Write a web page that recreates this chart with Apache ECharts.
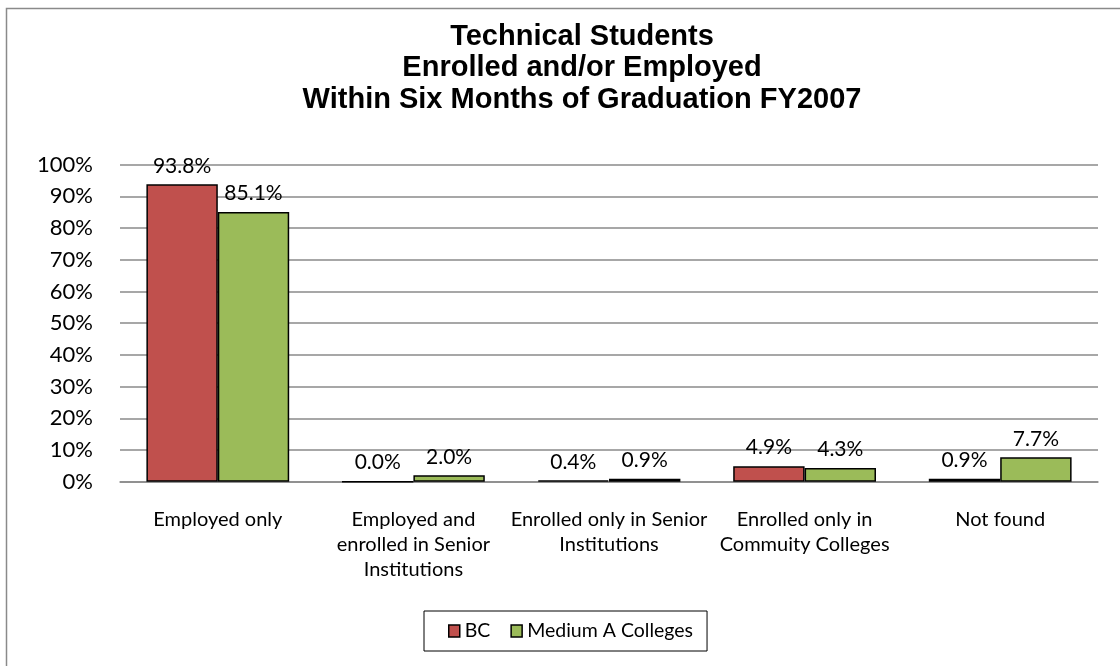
<!DOCTYPE html>
<html>
<head>
<meta charset="utf-8">
<script src="https://cdn.jsdelivr.net/npm/echarts@6/dist/echarts.min.js"></script>
<style>
  html, body { margin: 0; padding: 0; background: #fff; }
  #chart { width: 1120px; height: 666px; }
</style>
</head>
<body>
<div id="chart"></div>
<script>
// Outcome categories (x axis)
const categories = [
  'Employed only',
  'Employed and\nenrolled in Senior\nInstitutions',
  'Enrolled only in Senior\nInstitutions',
  'Enrolled only in\nCommuity Colleges',
  'Not found'
];

// Percent of technical graduates in each outcome
const bcValues = [93.8, 0.0, 0.4, 4.9, 0.9];
const mediumAValues = [85.1, 2.0, 0.9, 4.3, 7.7];

const seriesNames = ['BC', 'Medium A Colleges'];
const titleLines = [
  'Technical Students',
  'Enrolled and/or Employed',
  'Within Six Months of Graduation FY2007'
];

const bodyFont = 'Lato';
const chart = echarts.init(document.getElementById('chart'));

const labelOpt = {
  show: true,
  position: 'top',
  distance: 8,
  color: '#000',
  fontFamily: bodyFont,
  fontSize: 21,
  lineHeight: 21,
  formatter: p => p.value.toFixed(1) + '%'
};

chart.setOption({
  backgroundColor: '#fff',
  animation: false,
  graphic: [{
    type: 'rect',
    shape: { x: 6.5, y: 8.5, width: 1130, height: 700 },
    style: { fill: 'none', stroke: '#8a8a8a', lineWidth: 1.5 },
    silent: true
  }],
  title: {
    text: titleLines.join('\n'),
    left: 577,
    textAlign: 'center',
    top: 16,
    textStyle: {
      fontFamily: 'Liberation Sans',
      fontWeight: 'bold',
      fontSize: 29,
      lineHeight: 31.5,
      color: '#000'
    }
  },
  legend: {
    data: seriesNames,
    left: 424,
    top: 611,
    orient: 'horizontal',
    icon: 'rect',
    itemWidth: 11,
    itemHeight: 12,
    itemGap: 20,
    padding: [10, 14, 10, 24],
    borderColor: '#000',
    borderWidth: 1,
    itemStyle: { borderColor: '#000', borderWidth: 1.5 },
    textStyle: { fontFamily: bodyFont, fontSize: 19.5, lineHeight: 20, color: '#000' }
  },
  grid: {
    left: 120,
    right: 22,
    top: 164.7,
    bottom: 184.3,
    containLabel: false
  },
  xAxis: {
    type: 'category',
    data: categories,
    axisLine: { show: true, lineStyle: { color: '#8a8a8a', width: 1.5 } },
    axisTick: { show: false },
    axisLabel: {
      interval: 0,
      margin: 25,
      color: '#000',
      fontFamily: bodyFont,
      fontSize: 20,
      lineHeight: 25
    }
  },
  yAxis: {
    type: 'value',
    min: 0,
    max: 100,
    interval: 10,
    axisLine: { show: false },
    axisTick: { show: false },
    splitLine: { lineStyle: { color: '#8a8a8a', width: 1.5 } },
    axisLabel: {
      margin: 27,
      color: '#000',
      fontFamily: bodyFont,
      fontSize: 22,
      formatter: v => v + '%'
    }
  },
  series: [
    {
      name: seriesNames[0],
      type: 'bar',
      data: bcValues,
      barGap: '0%',
      barCategoryGap: '27%',
      itemStyle: { color: '#C0504D', borderColor: '#000', borderWidth: 1.5 },
      label: labelOpt
    },
    {
      name: seriesNames[1],
      type: 'bar',
      data: mediumAValues,
      itemStyle: { color: '#9BBB59', borderColor: '#000', borderWidth: 1.5 },
      label: labelOpt
    }
  ]
});
</script>
</body>
</html>
